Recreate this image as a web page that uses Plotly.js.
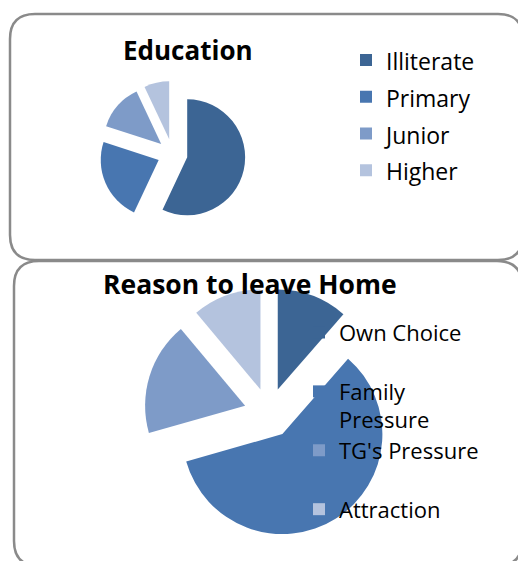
<!DOCTYPE html>
<html>
<head>
<meta charset="utf-8">
<script src="https://cdn.plot.ly/plotly-3.0.1.min.js"></script>
<style>html,body{margin:0;padding:0;background:#fff;}#chart{width:518px;height:561px;}</style>
</head>
<body>
<div id="chart"></div>
<script>
// Data (percent shares)
const eduLabels = ["Illiterate", "Primary", "Junior", "Higher"];
const eduValues = [57, 23, 13, 7];
const reasonLabels = ["Own Choice", "Family Pressure", "TG's Pressure", "Attraction"];
const reasonValues = [11.4, 59.2, 18.3, 11.1];
const sliceColors = ["#3c6594", "#4876b0", "#7e9bc8", "#b4c3de"];

const W = 518, H = 561;
function px(x) { return x / W; }
function py(y) { return 1 - y / H; }
function roundRect(x0, y0, x1, y1, r) {
  const p = (x, y) => px(x) + "," + py(y);
  return "M" + p(x0 + r, y0) + " L" + p(x1 - r, y0) + " Q" + p(x1, y0) + " " + p(x1, y0 + r) +
    " L" + p(x1, y1 - r) + " Q" + p(x1, y1) + " " + p(x1 - r, y1) +
    " L" + p(x0 + r, y1) + " Q" + p(x0, y1) + " " + p(x0, y1 - r) +
    " L" + p(x0, y0 + r) + " Q" + p(x0, y0) + " " + p(x0 + r, y0) + " Z";
}
function sized(t, s) { return "<span style='font-size:" + s + "px'>" + t + "</span>"; }

const FONT = "'Open Sans', 'Noto Sans', sans-serif";

const eduTrace = {
  type: "pie",
  labels: eduLabels.map(l => sized(l, 23)),
  values: eduValues,
  sort: false,
  direction: "clockwise",
  rotation: 0,
  pull: eduValues.map(() => 0.26),
  marker: { colors: sliceColors, line: { width: 0 } },
  textinfo: "none",
  hoverinfo: "skip",
  domain: { x: [px(99.5), px(245.5)], y: [py(227), py(81)] },
  legend: "legend"
};

const reasonTrace = {
  type: "pie",
  labels: reasonLabels.map(l => l === "Family Pressure"
    ? sized("Family", 22) + "<br>" + sized("Pressure", 22)
    : sized(l, 22) + "<br>\u00a0"),
  values: reasonValues,
  sort: false,
  direction: "clockwise",
  rotation: 0,
  pull: reasonValues.map(() => 0.25),
  marker: { colors: sliceColors, line: { width: 0 } },
  textinfo: "none",
  hoverinfo: "skip",
  domain: { x: [px(144), px(394)], y: [py(538), py(288)] },
  legend: "legend2"
};

const layout = {
  width: W, height: H,
  margin: { l: 0, r: 0, t: 0, b: 0 },
  paper_bgcolor: "#ffffff",
  font: { family: FONT, color: "#000000" },
  showlegend: true,
  legend: {
    x: px(346), xanchor: "left", y: py(36.5), yanchor: "top",
    font: { size: 26, family: FONT, color: "#000" },
    bgcolor: "rgba(0,0,0,0)", borderwidth: 0
  },
  legend2: {
    x: px(299), xanchor: "left", y: py(312), yanchor: "top",
    font: { size: 21.5, family: FONT, color: "#000" },
    valign: "top",
    bgcolor: "rgba(0,0,0,0)", borderwidth: 0
  },
  annotations: [
    { text: "<b>Education</b>", x: px(187.5), y: py(50), xref: "paper", yref: "paper",
      xanchor: "center", yanchor: "middle", showarrow: false,
      font: { size: 26, family: FONT, color: "#000" } },
    { text: "<b>Reason to leave Home</b>", x: px(250), y: py(284), xref: "paper", yref: "paper",
      xanchor: "center", yanchor: "middle", showarrow: false,
      font: { size: 26.5, family: FONT, color: "#000" } }
  ],
  shapes: [
    { type: "path", xref: "paper", yref: "paper", layer: "below",
      path: roundRect(10, 14, 523, 260, 25), line: { color: "#8a8a8a", width: 2.5 } },
    { type: "path", xref: "paper", yref: "paper", layer: "below",
      path: roundRect(14, 261, 522, 566, 25), line: { color: "#8a8a8a", width: 2.5 } }
  ]
};

Plotly.newPlot("chart", [eduTrace, reasonTrace], layout, { staticPlot: true, displayModeBar: false });
</script>
</body>
</html>
